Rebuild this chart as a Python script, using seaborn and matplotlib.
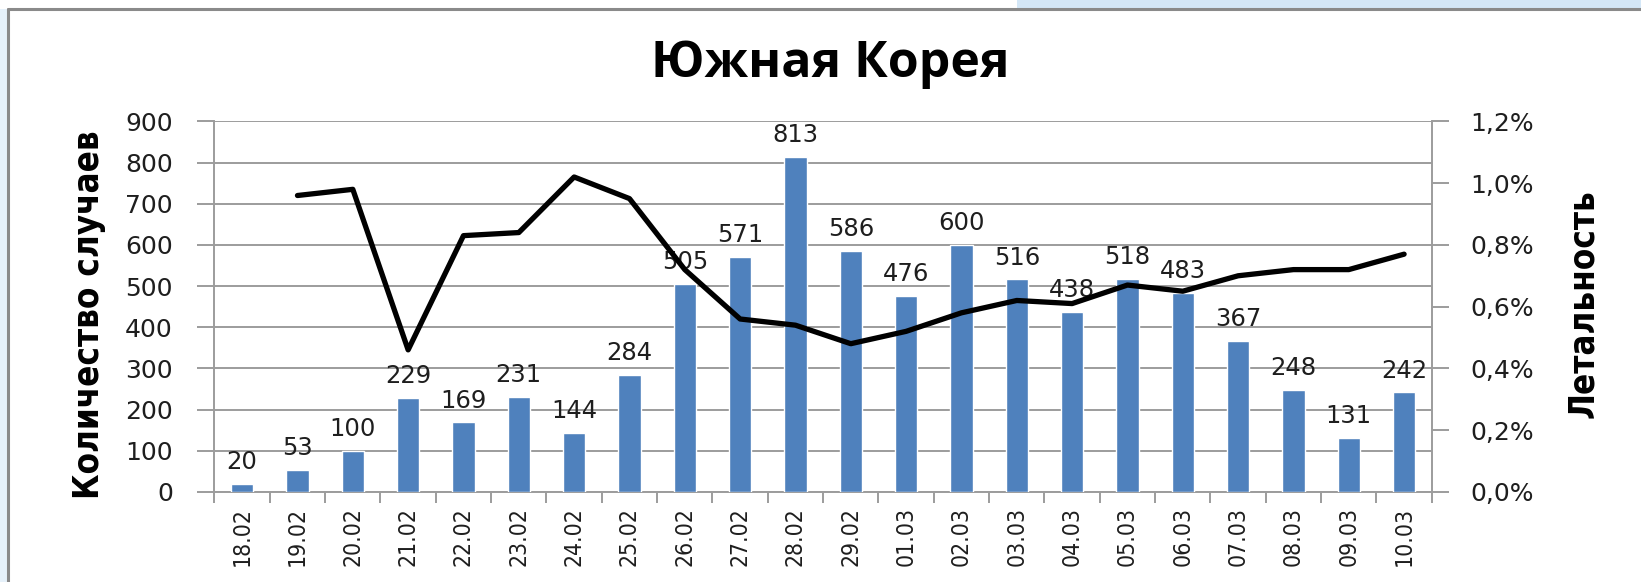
import matplotlib

matplotlib.use("Agg")
import matplotlib.pyplot as plt
import numpy as np
import pandas as pd
import seaborn as sns
from matplotlib.lines import Line2D
from matplotlib.patches import Rectangle
from matplotlib.ticker import FuncFormatter, MultipleLocator

dates = ["18.02", "19.02", "20.02", "21.02", "22.02", "23.02", "24.02", "25.02",
         "26.02", "27.02", "28.02", "29.02", "01.03", "02.03", "03.03", "04.03",
         "05.03", "06.03", "07.03", "08.03", "09.03", "10.03"]
cases = [20, 53, 100, 229, 169, 231, 144, 284, 505, 571, 813, 586,
         476, 600, 516, 438, 518, 483, 367, 248, 131, 242]
# lethality in percent, no value for the first day
lethality = [np.nan, 0.96, 0.98, 0.46, 0.83, 0.84, 1.02, 0.95, 0.72, 0.56, 0.54,
             0.48, 0.52, 0.58, 0.62, 0.61, 0.67, 0.65, 0.70, 0.72, 0.72, 0.77]

title = "Южная Корея"
left_label = "Количество случаев"
right_label = "Летальность"

BAR_COLOR = "#4F81BD"
GRID_COLOR = "#9c9c9c"
TEXT_COLOR = "#1e1e1e"

sns.set_theme(style="white")
plt.rcParams["font.family"] = ["DejaVu Sans"]

df = pd.DataFrame({"date": dates, "cases": cases, "lethality": lethality})
df["pos"] = np.arange(len(df))

fig = plt.figure(figsize=(16.41, 5.82), dpi=100, facecolor="white")

# frame of the slide
fig.patches.append(Rectangle((0.62, 0.985), 0.38, 0.015, transform=fig.transFigure,
                             facecolor="#d4e7f7", edgecolor="none", zorder=0))
fig.patches.append(Rectangle((0, 0), 0.0045, 0.985, transform=fig.transFigure,
                             facecolor="#e6f1fa", edgecolor="none", zorder=0))
fig.lines.append(Line2D([0.005, 1.0], [0.984, 0.984], transform=fig.transFigure,
                        color="#8a8a8a", lw=2.2))
fig.lines.append(Line2D([0.005, 0.005], [0.0, 0.984], transform=fig.transFigure,
                        color="#8a8a8a", lw=2.2))

ax = fig.add_axes([0.1307, 0.1548, 0.7418, 0.6366])
sns.barplot(data=df, x="date", y="cases", color=BAR_COLOR, saturation=1,
            width=0.4, ax=ax, zorder=3)
ax.bar_label(ax.containers[0], padding=7, fontsize=17.5, color=TEXT_COLOR)

ax.set_ylim(0, 900)
ax.set_xlim(-0.5, len(df) - 0.5)
ax.yaxis.set_major_locator(MultipleLocator(100))
ax.grid(axis="y", color=GRID_COLOR, lw=1.4, zorder=0)
ax.set_axisbelow(True)
for side in ["top", "right"]:
    ax.spines[side].set_visible(False)
for side in ["left", "bottom"]:
    ax.spines[side].set_color(GRID_COLOR)
    ax.spines[side].set_linewidth(1.4)
ax.set_xlabel("")
ax.set_ylabel("")

ax.set_xticks(df["pos"])
ax.set_xticklabels(dates, rotation=90, fontsize=16.5, fontstretch="condensed",
                   color=TEXT_COLOR)
ax.set_xticks(np.arange(len(df) + 1) - 0.5, minor=True)
ax.tick_params(axis="x", which="major", length=0, pad=11)
ax.tick_params(axis="x", which="minor", length=8, width=1.4, color=GRID_COLOR,
               direction="out", bottom=True)
ax.tick_params(axis="y", which="major", length=12, width=1.4, color=GRID_COLOR,
               direction="out", left=True, pad=18, labelsize=18, labelcolor=TEXT_COLOR)

ax2 = ax.twinx()
line_df = df.dropna(subset=["lethality"])
sns.lineplot(data=line_df, x="pos", y="lethality", color="black", lw=3.8, ax=ax2,
             zorder=4)
ax2.set_ylim(0, 1.2)
ax2.set_xlim(-0.5, len(df) - 0.5)
ax2.yaxis.set_major_locator(MultipleLocator(0.2))
ax2.yaxis.set_major_formatter(FuncFormatter(lambda v, _: f"{v:.1f}%".replace(".", ",")))
ax2.grid(False)
for side in ["top", "left", "bottom"]:
    ax2.spines[side].set_visible(False)
ax2.spines["right"].set_color(GRID_COLOR)
ax2.spines["right"].set_linewidth(1.4)
ax2.set_xlabel("")
ax2.set_ylabel("")
ax2.tick_params(axis="y", length=12, width=1.4, color=GRID_COLOR, direction="out",
                right=True, pad=16, labelsize=18, labelcolor=TEXT_COLOR)

fig.text(0.506, 0.89, title, ha="center", va="center", fontsize=36,
         fontweight="bold", color="black", family=["Open Sans", "DejaVu Sans"])
fig.text(0.054, 0.46, left_label, ha="center", va="center", rotation=90,
         fontsize=25, fontweight="bold", fontstretch="condensed", color="black")
fig.text(0.9647, 0.479, right_label, ha="center", va="center", rotation=90,
         fontsize=25, fontweight="bold", fontstretch="condensed", color="black")

fig.savefig("out.png", dpi=100, facecolor="white")
